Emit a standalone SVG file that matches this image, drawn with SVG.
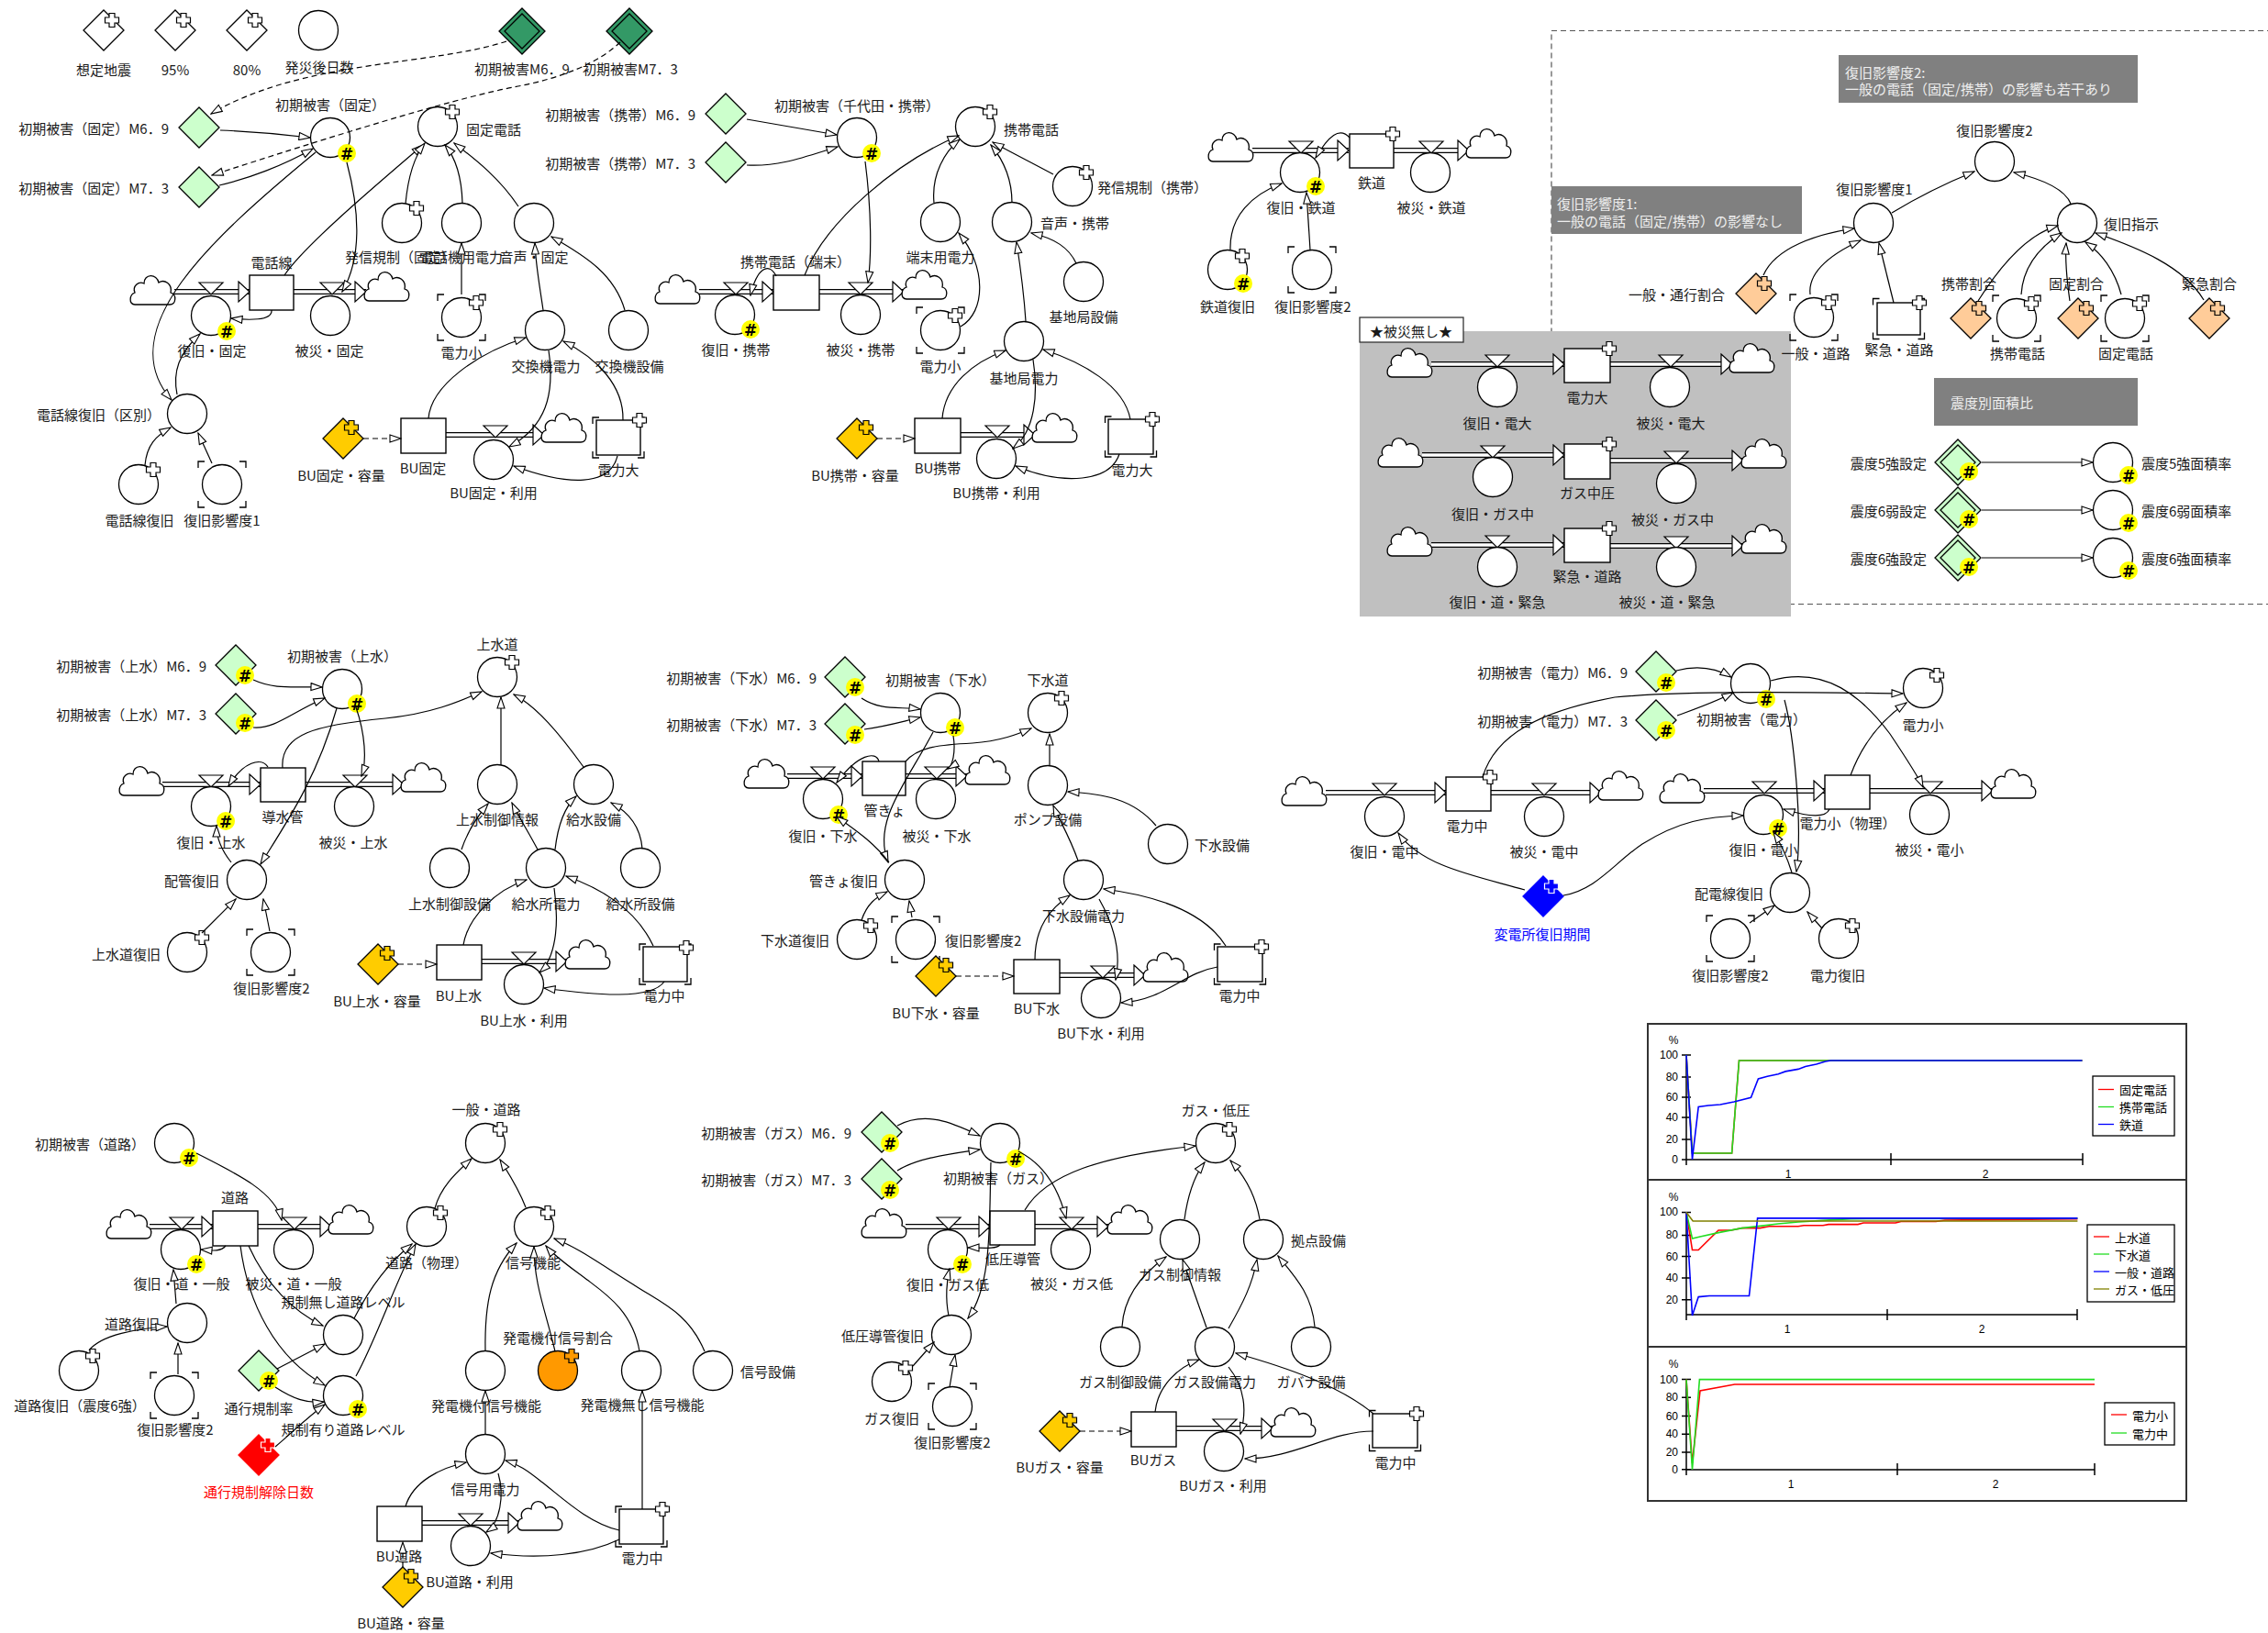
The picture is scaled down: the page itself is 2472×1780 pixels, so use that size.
<svg xmlns="http://www.w3.org/2000/svg" xmlns:xlink="http://www.w3.org/1999/xlink" width="2472" height="1780" viewBox="0 0 2472 1780">
<style>
text{font-family:"Noto Sans CJK JP","Liberation Sans",sans-serif;font-size:15px;fill:#1a1a1a;dominant-baseline:central;text-anchor:middle}
.s{text-anchor:start}.e{text-anchor:end}
.c{fill:#fff;stroke:#000;stroke-width:1.3}
.b{fill:#fff;stroke:#000;stroke-width:1.4}
.k{fill:none;stroke:#000;stroke-width:1.2;marker-end:url(#ah)}
.d{fill:none;stroke:#000;stroke-width:1.2;stroke-dasharray:6 4;marker-end:url(#ah)}
.p1{fill:none;stroke:#000;stroke-width:6}
.p2{fill:none;stroke:#fff;stroke-width:3.4}
.hb{fill:#ffff00}
.hx{font-family:"DejaVu Sans","Liberation Sans",sans-serif;font-weight:bold;font-size:17px;fill:#000}
.nt{fill:#eeeeee;font-size:15px}
.cf{font-family:"Liberation Sans",sans-serif;font-size:12px;fill:#000}
.lg{font-size:13px;fill:#000}
.ax{stroke:#000;stroke-width:1.5;fill:none}
.fr{fill:#fff;stroke:#333;stroke-width:2}
.ln{fill:none;stroke-width:1.6}
</style>
<defs>
<marker id="ah" markerWidth="14" markerHeight="10" refX="13" refY="5" orient="auto" markerUnits="userSpaceOnUse"><path d="M1,1 L13,5 L1,9 Z" fill="#fff" stroke="#000" stroke-width="1.1"/></marker>
<path id="cl" d="M-20,16 H18 C25,16 26,5 19,3 C21,-7 12,-12 6,-8 C4,-18 -10,-18 -10,-7 C-16,-10 -23,-4 -20,3 C-26,5 -27,16 -20,16 Z" fill="#fff" stroke="#000" stroke-width="1.3"/>
<path id="vl" d="M-13,-10 H13 L0,3 Z" fill="#fff" stroke="#000" stroke-width="1.2"/>
<path id="pa" d="M-12,-11 L0,0 L-12,11 Z" fill="#fff" stroke="#000" stroke-width="1.2"/>
<path id="pl" d="M-3,-7.5H3V-3H7.5V3H3V7.5H-3V3H-7.5V-3H-3Z" stroke-width="1.2"/>
<path id="pw" d="M-3,-7.5H3V-3H7.5V3H3V7.5H-3V3H-7.5V-3H-3Z" fill="#fff" stroke="#000" stroke-width="1.2"/>
<path id="dm" d="M0,-22L22,0 0,22-22,0Z" stroke-width="1.3"/>
<g id="dd" stroke-width="1.3"><path d="M0,-25L25,0 0,25-25,0Z"/><path d="M0,-19L19,0 0,19-19,0Z"/></g>
<path id="bk" d="M-26,-18V-25H-19M19,-25H26V-18M26,18V25H19M-19,25H-26V18" fill="none" stroke="#000" stroke-width="1.3"/>
<path id="bb" d="M-28,-15V-22H-21M21,-22H28V-15M28,15V22H21M-21,22H-28V15" fill="none" stroke="#000" stroke-width="1.3"/>
</defs>
<rect width="2472" height="1780" fill="#fff"/>

<g id="frames">
<rect x="1691" y="33.5" width="800" height="625" fill="none" stroke="#555" stroke-width="1.2" stroke-dasharray="6 4"/>
<rect x="1482" y="361" width="470" height="311" fill="#c0c0c0"/>
<rect x="1482" y="346" width="113" height="27" fill="#fff" stroke="#333" stroke-width="1.3"/>
<text x="1538" y="360">★被災無し★</text>
<rect x="1691" y="203" width="273" height="52" fill="#808080"/>
<text class="s nt" x="1697" y="221">復旧影響度1:</text>
<text class="s nt" x="1697" y="240">一般の電話（固定/携帯）の影響なし</text>
<rect x="2004" y="60" width="326" height="52" fill="#808080"/>
<text class="s nt" x="2011" y="78">復旧影響度2:</text>
<text class="s nt" x="2011" y="96">一般の電話（固定/携帯）の影響も若干あり</text>
<rect x="2108" y="412" width="222" height="52" fill="#808080"/>
<text class="s nt" x="2126" y="438">震度別面積比</text>
</g>

<g id="pipes">
<path class="p1" d="M190,318H272M320,318H399M486,474H593M762,318H843M893,318H985M1047,474H1128M1365,164H1470M1519,164H1601M1560,397H1705M1755,397H1888M1550,496H1705M1755,502H1900M1560,594H1705M1755,595H1900M177,855H284M333,855H440M525,1048H618M858,846H940M987,846H1054M1155,1063H1248M1445,864H1576M1625,864H1745M1857,862H1989M2038,862H2172M163,1337H232M281,1337H361M460,1660H566M987,1337H1079M1128,1337H1208M1282,1557H1387"/>
<path class="p2" d="M190,318H272M320,318H399M486,474H593M762,318H843M893,318H985M1047,474H1128M1365,164H1470M1519,164H1601M1560,397H1705M1755,397H1888M1550,496H1705M1755,502H1900M1560,594H1705M1755,595H1900M177,855H284M333,855H440M525,1048H618M858,846H940M987,846H1054M1155,1063H1248M1445,864H1576M1625,864H1745M1857,862H1989M2038,862H2172M163,1337H232M281,1337H361M460,1660H566M987,1337H1079M1128,1337H1208M1282,1557H1387"/>
<use href="#pa" x="272" y="318"/><use href="#pa" x="399" y="318"/><use href="#pa" x="593" y="474"/>
<use href="#pa" x="843" y="318"/><use href="#pa" x="985" y="318"/><use href="#pa" x="1128" y="474"/>
<use href="#pa" x="1470" y="164"/><use href="#pa" x="1601" y="164"/>
<use href="#pa" x="1705" y="397"/><use href="#pa" x="1888" y="397"/><use href="#pa" x="1705" y="496"/><use href="#pa" x="1900" y="502"/><use href="#pa" x="1705" y="594"/><use href="#pa" x="1900" y="595"/>
<use href="#pa" x="284" y="855"/><use href="#pa" x="440" y="855"/><use href="#pa" x="618" y="1048"/>
<use href="#pa" x="940" y="846"/><use href="#pa" x="1054" y="846"/><use href="#pa" x="1248" y="1063"/>
<use href="#pa" x="1576" y="864"/><use href="#pa" x="1745" y="864"/><use href="#pa" x="1989" y="862"/><use href="#pa" x="2172" y="862"/>
<use href="#pa" x="232" y="1337"/><use href="#pa" x="361" y="1337"/><use href="#pa" x="566" y="1660"/>
<use href="#pa" x="1079" y="1337"/><use href="#pa" x="1208" y="1337"/><use href="#pa" x="1387" y="1557"/>
</g>

<g id="clouds">
<use href="#cl" x="167" y="316"/><use href="#cl" x="422" y="312"/><use href="#cl" x="615" y="466"/>
<use href="#cl" x="739" y="315"/><use href="#cl" x="1008" y="310"/><use href="#cl" x="1150" y="466"/>
<use href="#cl" x="1342" y="160"/><use href="#cl" x="1623" y="156"/>
<use href="#cl" x="1537" y="395"/><use href="#cl" x="1910" y="390"/><use href="#cl" x="1527" y="493"/><use href="#cl" x="1923" y="494"/><use href="#cl" x="1537" y="590"/><use href="#cl" x="1923" y="587"/>
<use href="#cl" x="155" y="851"/><use href="#cl" x="462" y="847"/><use href="#cl" x="641" y="1040"/>
<use href="#cl" x="836" y="843"/><use href="#cl" x="1077" y="839"/><use href="#cl" x="1271" y="1054"/>
<use href="#cl" x="1422" y="862"/><use href="#cl" x="1767" y="856"/><use href="#cl" x="1834" y="859"/><use href="#cl" x="2195" y="854"/>
<use href="#cl" x="141" y="1334"/><use href="#cl" x="383" y="1329"/><use href="#cl" x="589" y="1652"/>
<use href="#cl" x="964" y="1333"/><use href="#cl" x="1232" y="1329"/><use href="#cl" x="1410" y="1550"/>
</g>

<!-- ===== Section A: legend + fixed phone ===== -->
<g id="n-soutei"><use href="#dm" x="113" y="33" fill="#fff" stroke="#000"/><use href="#pw" x="122" y="22"/><text x="113" y="75">想定地震</text></g>
<g id="n-95"><use href="#dm" x="191" y="33" fill="#fff" stroke="#000"/><use href="#pw" x="200" y="22"/><text x="191" y="75">95%</text></g>
<g id="n-80"><use href="#dm" x="269" y="33" fill="#fff" stroke="#000"/><use href="#pw" x="278" y="22"/><text x="269" y="75">80%</text></g>
<g id="n-hassai"><circle class="c" cx="347" cy="33" r="21.5"/><text x="348" y="72">発災後日数</text></g>
<g id="n-m69"><use href="#dd" x="569" y="34" fill="#339966" stroke="#000"/><text x="569" y="74">初期被害M6．9</text></g>
<g id="n-m73"><use href="#dd" x="686" y="34" fill="#339966" stroke="#000"/><text x="687" y="74">初期被害M7．3</text></g>
<g id="n-kotei-m69"><use href="#dm" x="217" y="139" fill="#ccffcc" stroke="#000"/><text class="e" x="184" y="139">初期被害（固定）M6．9</text></g>
<g id="n-kotei-m73"><use href="#dm" x="217" y="204" fill="#ccffcc" stroke="#000"/><text class="e" x="184" y="204">初期被害（固定）M7．3</text></g>
<g id="n-kotei-init"><circle class="c" cx="360" cy="150" r="21.5"/><circle class="hb" cx="378" cy="167" r="10"/><text class="hx" x="378" y="168">#</text><text x="360" y="113">初期被害（固定）</text></g>
<g id="n-kotei-tel"><circle class="c" cx="477" cy="138" r="21.5"/><use href="#pw" x="493" y="122"/><text class="s" x="508" y="140">固定電話</text></g>
<g id="n-kotei-kisei"><circle class="c" cx="438" cy="243" r="21.5"/><use href="#pw" x="454" y="227"/><text x="436" y="279">発信規制（固定）</text></g>
<g id="n-kotei-denwaki"><circle class="c" cx="503" cy="243" r="21.5"/><text x="503" y="279">電話機用電力</text></g>
<g id="n-kotei-onsei"><circle class="c" cx="582" cy="243" r="21.5"/><text x="582" y="279">音声・固定</text></g>
<g id="n-kotei-denryokusho"><circle class="c" cx="503" cy="346" r="21.5"/><use href="#bk" x="503" y="346"/><use href="#pw" x="519" y="330"/><text x="503" y="383">電力小</text></g>
<g id="n-kotei-kokanden"><circle class="c" cx="594" cy="360" r="21.5"/><text x="595" y="398">交換機電力</text></g>
<g id="n-kotei-kokansetsubi"><circle class="c" cx="685" cy="360" r="21.5"/><text x="686" y="398">交換機設備</text></g>
<g id="n-denwasen"><rect class="b" x="272" y="300" width="48" height="38"/><text x="296" y="285">電話線</text></g>
<g id="n-fukkyu-kotei"><use href="#vl" x="230" y="318"/><circle class="c" cx="230" cy="344" r="21.5"/><circle class="hb" cx="247" cy="361" r="10"/><text class="hx" x="247" y="362">#</text><text x="231" y="381">復旧・固定</text></g>
<g id="n-hisai-kotei"><use href="#vl" x="362" y="318"/><circle class="c" cx="360" cy="344" r="21.5"/><text x="359" y="381">被災・固定</text></g>
<g id="n-denwasen-kubetsu"><circle class="c" cx="204" cy="451" r="21.5"/><text class="e" x="175" y="451">電話線復旧（区別）</text></g>
<g id="n-denwasen-fukkyu"><circle class="c" cx="151" cy="528" r="21.5"/><use href="#pw" x="167" y="512"/><text x="152" y="566">電話線復旧</text></g>
<g id="n-eikyo1-a"><circle class="c" cx="242" cy="528" r="21.5"/><use href="#bk" x="242" y="528"/><text x="242" y="566">復旧影響度1</text></g>
<g id="n-bu-kotei-yoryo"><use href="#dm" x="374" y="478" fill="#ffcc00" stroke="#000"/><use href="#pl" x="383" y="466" fill="#ffcc00" stroke="#000"/><text x="372" y="517">BU固定・容量</text></g>
<g id="n-bu-kotei"><rect class="b" x="437" y="456" width="49" height="38"/><text x="461" y="509">BU固定</text></g>
<g id="n-bu-kotei-riyo"><use href="#vl" x="540" y="474"/><circle class="c" cx="538" cy="501" r="21.5"/><text x="538" y="536">BU固定・利用</text></g>
<g id="n-kotei-denryokudai"><rect class="b" x="650" y="458" width="48" height="38"/><use href="#bb" x="674" y="477"/><use href="#pw" x="697" y="458"/><text x="674" y="511">電力大</text></g>

<!-- ===== Section B: mobile ===== -->
<g id="n-keitai-m69"><use href="#dm" x="791" y="124" fill="#ccffcc" stroke="#000"/><text class="e" x="758" y="124">初期被害（携帯）M6．9</text></g>
<g id="n-keitai-m73"><use href="#dm" x="791" y="177" fill="#ccffcc" stroke="#000"/><text class="e" x="758" y="177">初期被害（携帯）M7．3</text></g>
<g id="n-keitai-init"><circle class="c" cx="934" cy="150" r="21.5"/><circle class="hb" cx="950" cy="167" r="10"/><text class="hx" x="950" y="168">#</text><text x="934" y="114">初期被害（千代田・携帯）</text></g>
<g id="n-keitai-tel"><circle class="c" cx="1063" cy="138" r="21.5"/><use href="#pw" x="1079" y="122"/><text class="s" x="1094" y="140">携帯電話</text></g>
<g id="n-keitai-kisei"><circle class="c" cx="1169" cy="203" r="21.5"/><use href="#pw" x="1184" y="188"/><text class="s" x="1196" y="203">発信規制（携帯）</text></g>
<g id="n-tanmatsu-den"><circle class="c" cx="1025" cy="242" r="21.5"/><text x="1025" y="279">端末用電力</text></g>
<g id="n-onsei-keitai"><circle class="c" cx="1103" cy="242" r="21.5"/><text class="s" x="1134" y="242">音声・携帯</text></g>
<g id="n-kichi-setsubi"><circle class="c" cx="1181" cy="307" r="21.5"/><text x="1181" y="344">基地局設備</text></g>
<g id="n-keitai-denryokusho"><circle class="c" cx="1025" cy="360" r="21.5"/><use href="#bk" x="1025" y="360"/><use href="#pw" x="1041" y="344"/><text x="1025" y="398">電力小</text></g>
<g id="n-kichi-den"><circle class="c" cx="1116" cy="372" r="21.5"/><text x="1116" y="411">基地局電力</text></g>
<g id="n-keitai-tanmatsu"><rect class="b" x="843" y="300" width="50" height="38"/><text x="867" y="284">携帯電話（端末）</text></g>
<g id="n-fukkyu-keitai"><use href="#vl" x="802" y="318"/><circle class="c" cx="801" cy="343" r="21.5"/><circle class="hb" cx="818" cy="359" r="10"/><text class="hx" x="818" y="360">#</text><text x="802" y="380">復旧・携帯</text></g>
<g id="n-hisai-keitai"><use href="#vl" x="938" y="318"/><circle class="c" cx="938" cy="343" r="21.5"/><text x="938" y="380">被災・携帯</text></g>
<g id="n-bu-keitai-yoryo"><use href="#dm" x="934" y="478" fill="#ffcc00" stroke="#000"/><use href="#pl" x="944" y="466" fill="#ffcc00" stroke="#000"/><text x="932" y="517">BU携帯・容量</text></g>
<g id="n-bu-keitai"><rect class="b" x="997" y="456" width="50" height="38"/><text x="1022" y="509">BU携帯</text></g>
<g id="n-bu-keitai-riyo"><use href="#vl" x="1087" y="474"/><circle class="c" cx="1086" cy="500" r="21.5"/><text x="1086" y="536">BU携帯・利用</text></g>
<g id="n-keitai-denryokudai"><rect class="b" x="1208" y="457" width="49" height="38"/><use href="#bb" x="1232.5" y="476"/><use href="#pw" x="1256" y="457"/><text x="1234" y="511">電力大</text></g>

<!-- ===== Section C: railway ===== -->
<g id="n-tetsudo"><rect class="b" x="1471" y="146" width="48" height="37"/><use href="#pw" x="1518" y="146"/><text x="1495" y="198">鉄道</text></g>
<g id="n-fukkyu-tetsudo"><use href="#vl" x="1418" y="164"/><circle class="c" cx="1417" cy="188" r="21.5"/><circle class="hb" cx="1434" cy="203" r="10"/><text class="hx" x="1434" y="204">#</text><text x="1418" y="225">復旧・鉄道</text></g>
<g id="n-hisai-tetsudo"><use href="#vl" x="1560" y="164"/><circle class="c" cx="1559" cy="188" r="21.5"/><text x="1560" y="225">被災・鉄道</text></g>
<g id="n-tetsudo-fukkyu"><circle class="c" cx="1338" cy="294" r="21.5"/><use href="#pw" x="1354" y="279"/><circle class="hb" cx="1355" cy="309" r="10"/><text class="hx" x="1355" y="310">#</text><text x="1338" y="333">鉄道復旧</text></g>
<g id="n-eikyo2-tetsudo"><circle class="c" cx="1430" cy="294" r="21.5"/><use href="#bk" x="1430" y="294"/><text x="1431" y="333">復旧影響度2</text></g>

<!-- ===== Section D: no-damage ===== -->
<g id="n-nd-denryokudai"><rect class="b" x="1705" y="380" width="50" height="37"/><use href="#pw" x="1754" y="380"/><text x="1730" y="432">電力大</text></g>
<g id="n-nd-fukkyu-dendai"><use href="#vl" x="1632" y="397"/><circle class="c" cx="1632" cy="422" r="21.5"/><text x="1632" y="460">復旧・電大</text></g>
<g id="n-nd-hisai-dendai"><use href="#vl" x="1821" y="397"/><circle class="c" cx="1820" cy="422" r="21.5"/><text x="1821" y="460">被災・電大</text></g>
<g id="n-nd-gaschuatsu"><rect class="b" x="1705" y="484" width="50" height="38"/><use href="#pw" x="1754" y="484"/><text x="1730" y="536">ガス中圧</text></g>
<g id="n-nd-fukkyu-gaschu"><use href="#vl" x="1627" y="496"/><circle class="c" cx="1627" cy="520" r="21.5"/><text x="1627" y="559">復旧・ガス中</text></g>
<g id="n-nd-hisai-gaschu"><use href="#vl" x="1827" y="502"/><circle class="c" cx="1827" cy="527" r="21.5"/><text x="1823" y="565">被災・ガス中</text></g>
<g id="n-nd-kinkyu"><rect class="b" x="1705" y="576" width="50" height="37"/><use href="#pw" x="1754" y="576"/><text x="1730" y="627">緊急・道路</text></g>
<g id="n-nd-fukkyu-kinkyu"><use href="#vl" x="1632" y="594"/><circle class="c" cx="1632" cy="618" r="21.5"/><text x="1632" y="655">復旧・道・緊急</text></g>
<g id="n-nd-hisai-kinkyu"><use href="#vl" x="1827" y="595"/><circle class="c" cx="1827" cy="618" r="21.5"/><text x="1817" y="655">被災・道・緊急</text></g>

<!-- ===== Section E: recovery influence ===== -->
<g id="n-eikyo2"><circle class="c" cx="2174" cy="176" r="21.5"/><text x="2174" y="141">復旧影響度2</text></g>
<g id="n-eikyo1"><circle class="c" cx="2042" cy="243" r="21.5"/><text x="2043" y="205">復旧影響度1</text></g>
<g id="n-shiji"><circle class="c" cx="2264" cy="243" r="21.5"/><text class="s" x="2293" y="243">復旧指示</text></g>
<g id="n-ippan-tsuko"><use href="#dm" x="1914" y="320" fill="#ffcc99" stroke="#000"/><use href="#pl" x="1923" y="309" fill="#ffcc99" stroke="#000"/><text class="e" x="1880" y="320">一般・通行割合</text></g>
<g id="n-e-ippan-doro"><circle class="c" cx="1977" cy="346" r="21.5"/><use href="#bk" x="1977" y="346"/><use href="#pw" x="1993" y="330"/><text x="1979" y="384">一般・道路</text></g>
<g id="n-e-kinkyu-doro"><rect class="b" x="2046" y="330" width="47" height="35"/><use href="#bb" x="2069.5" y="347.5"/><use href="#pw" x="2092" y="330"/><text x="2070" y="380">緊急・道路</text></g>
<g id="n-keitai-wariai"><use href="#dm" x="2148" y="347" fill="#ffcc99" stroke="#000"/><use href="#pl" x="2157" y="336" fill="#ffcc99" stroke="#000"/><text x="2146" y="308">携帯割合</text></g>
<g id="n-e-keitai-tel"><circle class="c" cx="2198" cy="347" r="21.5"/><use href="#bk" x="2198" y="347"/><use href="#pw" x="2214" y="331"/><text x="2199" y="384">携帯電話</text></g>
<g id="n-kotei-wariai"><use href="#dm" x="2265" y="347" fill="#ffcc99" stroke="#000"/><use href="#pl" x="2274" y="336" fill="#ffcc99" stroke="#000"/><text x="2263" y="308">固定割合</text></g>
<g id="n-e-kotei-tel"><circle class="c" cx="2316" cy="347" r="21.5"/><use href="#bk" x="2316" y="347"/><use href="#pw" x="2332" y="331"/><text x="2317" y="384">固定電話</text></g>
<g id="n-kinkyu-wariai"><use href="#dm" x="2408" y="347" fill="#ffcc99" stroke="#000"/><use href="#pl" x="2417" y="336" fill="#ffcc99" stroke="#000"/><text x="2408" y="308">緊急割合</text></g>
<g id="n-shindo5k"><use href="#dd" x="2134" y="504" fill="#ccffcc" stroke="#000"/><circle class="hb" cx="2146" cy="514" r="10"/><text class="hx" x="2146" y="515">#</text><text class="e" x="2100" y="504">震度5強設定</text></g>
<g id="n-shindo5k-r"><circle class="c" cx="2303" cy="504" r="21.5"/><circle class="hb" cx="2320" cy="518" r="10"/><text class="hx" x="2320" y="519">#</text><text class="s" x="2334" y="504">震度5強面積率</text></g>
<g id="n-shindo6j"><use href="#dd" x="2134" y="556" fill="#ccffcc" stroke="#000"/><circle class="hb" cx="2146" cy="566" r="10"/><text class="hx" x="2146" y="567">#</text><text class="e" x="2100" y="556">震度6弱設定</text></g>
<g id="n-shindo6j-r"><circle class="c" cx="2303" cy="556" r="21.5"/><circle class="hb" cx="2320" cy="570" r="10"/><text class="hx" x="2320" y="571">#</text><text class="s" x="2334" y="556">震度6弱面積率</text></g>
<g id="n-shindo6k"><use href="#dd" x="2134" y="608" fill="#ccffcc" stroke="#000"/><circle class="hb" cx="2146" cy="618" r="10"/><text class="hx" x="2146" y="619">#</text><text class="e" x="2100" y="608">震度6強設定</text></g>
<g id="n-shindo6k-r"><circle class="c" cx="2303" cy="608" r="21.5"/><circle class="hb" cx="2320" cy="622" r="10"/><text class="hx" x="2320" y="623">#</text><text class="s" x="2334" y="608">震度6強面積率</text></g>

<!-- ===== Section F: water supply ===== -->
<g id="n-josui-m69"><use href="#dm" x="257" y="725" fill="#ccffcc" stroke="#000"/><circle class="hb" cx="267" cy="736" r="10"/><text class="hx" x="267" y="737">#</text><text class="e" x="225" y="725">初期被害（上水）M6．9</text></g>
<g id="n-josui-m73"><use href="#dm" x="257" y="778" fill="#ccffcc" stroke="#000"/><circle class="hb" cx="267" cy="788" r="10"/><text class="hx" x="267" y="789">#</text><text class="e" x="225" y="778">初期被害（上水）M7．3</text></g>
<g id="n-josui-init"><circle class="c" cx="373" cy="751" r="21.5"/><circle class="hb" cx="389" cy="767" r="10"/><text class="hx" x="389" y="768">#</text><text x="373" y="714">初期被害（上水）</text></g>
<g id="n-josuido"><circle class="c" cx="542" cy="738" r="21.5"/><use href="#pw" x="558" y="722"/><text x="542" y="701">上水道</text></g>
<g id="n-dosuikan"><rect class="b" x="284" y="837" width="49" height="37"/><text x="308" y="889">導水管</text></g>
<g id="n-fukkyu-josui"><use href="#vl" x="230" y="855"/><circle class="c" cx="230" cy="879" r="21.5"/><circle class="hb" cx="246" cy="895" r="10"/><text class="hx" x="246" y="896">#</text><text x="230" y="917">復旧・上水</text></g>
<g id="n-hisai-josui"><use href="#vl" x="387" y="855"/><circle class="c" cx="386" cy="879" r="21.5"/><text x="385" y="917">被災・上水</text></g>
<g id="n-haikan"><circle class="c" cx="269" cy="959" r="21.5"/><text class="e" x="239" y="959">配管復旧</text></g>
<g id="n-josuido-fukkyu"><circle class="c" cx="204" cy="1038" r="21.5"/><use href="#pw" x="220" y="1022"/><text class="e" x="175" y="1039">上水道復旧</text></g>
<g id="n-eikyo2-josui"><circle class="c" cx="295" cy="1038" r="21.5"/><use href="#bk" x="295" y="1038"/><text x="296" y="1076">復旧影響度2</text></g>
<g id="n-josui-seigyo"><circle class="c" cx="542" cy="855" r="21.5"/><text x="542" y="892">上水制御情報</text></g>
<g id="n-kyusui-setsubi"><circle class="c" cx="647" cy="855" r="21.5"/><text x="647" y="892">給水設備</text></g>
<g id="n-josui-seigyo-setsubi"><circle class="c" cx="490" cy="946" r="21.5"/><text x="490" y="984">上水制御設備</text></g>
<g id="n-kyusuijo-den"><circle class="c" cx="595" cy="946" r="21.5"/><text x="595" y="984">給水所電力</text></g>
<g id="n-kyusuijo-setsubi"><circle class="c" cx="698" cy="946" r="21.5"/><text x="698" y="984">給水所設備</text></g>
<g id="n-bu-josui-yoryo"><use href="#dm" x="412" y="1051" fill="#ffcc00" stroke="#000"/><use href="#pl" x="422" y="1039" fill="#ffcc00" stroke="#000"/><text x="411" y="1090">BU上水・容量</text></g>
<g id="n-bu-josui"><rect class="b" x="476" y="1030" width="49" height="38"/><text x="500" y="1084">BU上水</text></g>
<g id="n-bu-josui-riyo"><use href="#vl" x="571" y="1048"/><circle class="c" cx="571" cy="1073" r="21.5"/><text x="571" y="1111">BU上水・利用</text></g>
<g id="n-josui-denryokuchu"><rect class="b" x="701" y="1032" width="48" height="38"/><use href="#bb" x="725" y="1051"/><use href="#pw" x="748" y="1033"/><text x="724" y="1084">電力中</text></g>

<!-- ===== Section G: sewerage ===== -->
<g id="n-gesui-m69"><use href="#dm" x="921" y="738" fill="#ccffcc" stroke="#000"/><circle class="hb" cx="932" cy="749" r="10"/><text class="hx" x="932" y="750">#</text><text class="e" x="890" y="738">初期被害（下水）M6．9</text></g>
<g id="n-gesui-m73"><use href="#dm" x="921" y="789" fill="#ccffcc" stroke="#000"/><circle class="hb" cx="932" cy="801" r="10"/><text class="hx" x="932" y="802">#</text><text class="e" x="890" y="789">初期被害（下水）M7．3</text></g>
<g id="n-gesui-init"><circle class="c" cx="1025" cy="777" r="21.5"/><circle class="hb" cx="1041" cy="793" r="10"/><text class="hx" x="1041" y="794">#</text><text x="1025" y="740">初期被害（下水）</text></g>
<g id="n-gesuido"><circle class="c" cx="1142" cy="777" r="21.5"/><use href="#pw" x="1157" y="761"/><text x="1142" y="740">下水道</text></g>
<g id="n-kankyo"><rect class="b" x="940" y="830" width="47" height="37"/><text x="964" y="882">管きょ</text></g>
<g id="n-fukkyu-gesui"><use href="#vl" x="897" y="846"/><circle class="c" cx="897" cy="871" r="21.5"/><circle class="hb" cx="914" cy="888" r="10"/><text class="hx" x="914" y="889">#</text><text x="897" y="910">復旧・下水</text></g>
<g id="n-hisai-gesui"><use href="#vl" x="1021" y="846"/><circle class="c" cx="1020" cy="871" r="21.5"/><text x="1021" y="910">被災・下水</text></g>
<g id="n-kankyo-fukkyu"><circle class="c" cx="986" cy="959" r="21.5"/><text class="e" x="957" y="959">管きょ復旧</text></g>
<g id="n-gesuido-fukkyu"><circle class="c" cx="934" cy="1024" r="21.5"/><use href="#pw" x="949" y="1009"/><text class="e" x="904" y="1024">下水道復旧</text></g>
<g id="n-eikyo2-gesui"><circle class="c" cx="998" cy="1024" r="21.5"/><use href="#bk" x="998" y="1024"/><text class="s" x="1030" y="1024">復旧影響度2</text></g>
<g id="n-pump"><circle class="c" cx="1142" cy="856" r="21.5"/><text x="1142" y="892">ポンプ設備</text></g>
<g id="n-gesui-setsubi"><circle class="c" cx="1273" cy="920" r="21.5"/><text class="s" x="1302" y="920">下水設備</text></g>
<g id="n-gesui-setsubi-den"><circle class="c" cx="1181" cy="959" r="21.5"/><text x="1181" y="997">下水設備電力</text></g>
<g id="n-bu-gesui-yoryo"><use href="#dm" x="1020" y="1064" fill="#ffcc00" stroke="#000"/><use href="#pl" x="1031" y="1052" fill="#ffcc00" stroke="#000"/><text x="1020" y="1103">BU下水・容量</text></g>
<g id="n-bu-gesui"><rect class="b" x="1105" y="1046" width="50" height="37"/><text x="1130" y="1098">BU下水</text></g>
<g id="n-bu-gesui-riyo"><use href="#vl" x="1202" y="1063"/><circle class="c" cx="1200" cy="1088" r="21.5"/><text x="1200" y="1125">BU下水・利用</text></g>
<g id="n-gesui-denryokuchu"><rect class="b" x="1327" y="1032" width="49" height="38"/><use href="#bb" x="1351.5" y="1051"/><use href="#pw" x="1375" y="1032"/><text x="1351" y="1084">電力中</text></g>

<!-- ===== Section H: power ===== -->
<g id="n-denryoku-m69"><use href="#dm" x="1805" y="732" fill="#ccffcc" stroke="#000"/><circle class="hb" cx="1816" cy="744" r="10"/><text class="hx" x="1816" y="745">#</text><text class="e" x="1774" y="732">初期被害（電力）M6．9</text></g>
<g id="n-denryoku-m73"><use href="#dm" x="1805" y="785" fill="#ccffcc" stroke="#000"/><circle class="hb" cx="1816" cy="796" r="10"/><text class="hx" x="1816" y="797">#</text><text class="e" x="1774" y="785">初期被害（電力）M7．3</text></g>
<g id="n-denryoku-init"><circle class="c" cx="1908" cy="745" r="21.5"/><circle class="hb" cx="1925" cy="762" r="10"/><text class="hx" x="1925" y="763">#</text><text x="1909" y="783">初期被害（電力）</text></g>
<g id="n-denryokusho"><circle class="c" cx="2096" cy="750" r="21.5"/><use href="#pw" x="2111" y="736"/><text x="2096" y="789">電力小</text></g>
<g id="n-denryokuchu"><rect class="b" x="1576" y="847" width="49" height="37"/><use href="#pw" x="1624" y="847"/><text x="1599" y="899">電力中</text></g>
<g id="n-fukkyu-denchu"><use href="#vl" x="1509" y="864"/><circle class="c" cx="1509" cy="890" r="21.5"/><text x="1509" y="927">復旧・電中</text></g>
<g id="n-hisai-denchu"><use href="#vl" x="1683" y="864"/><circle class="c" cx="1683" cy="890" r="21.5"/><text x="1683" y="927">被災・電中</text></g>
<g id="n-denryokusho-butsuri"><rect class="b" x="1989" y="845" width="49" height="37"/><text x="2014" y="896">電力小（物理）</text></g>
<g id="n-fukkyu-densho"><use href="#vl" x="1923" y="862"/><circle class="c" cx="1922" cy="888" r="21.5"/><circle class="hb" cx="1938" cy="903" r="10"/><text class="hx" x="1938" y="904">#</text><text x="1922" y="925">復旧・電小</text></g>
<g id="n-hisai-densho"><use href="#vl" x="2104" y="862"/><circle class="c" cx="2103" cy="888" r="21.5"/><text x="2103" y="925">被災・電小</text></g>
<g id="n-hendensho"><use href="#dm" x="1682" y="977" fill="#0000ff" stroke="#0000ff"/><use href="#pl" x="1691" y="966" fill="#0000ff" stroke="#fff"/><text x="1681" y="1017" style="fill:#0000ff">変電所復旧期間</text></g>
<g id="n-haidensen"><circle class="c" cx="1951" cy="973" r="21.5"/><text class="e" x="1922" y="973">配電線復旧</text></g>
<g id="n-eikyo2-den"><circle class="c" cx="1886" cy="1023" r="21.5"/><use href="#bk" x="1886" y="1023"/><text x="1886" y="1062">復旧影響度2</text></g>
<g id="n-denryoku-fukkyu"><circle class="c" cx="2004" cy="1023" r="21.5"/><use href="#pw" x="2019" y="1009"/><text x="2003" y="1062">電力復旧</text></g>

<!-- ===== Section I: road ===== -->
<g id="n-doro-init"><circle class="c" cx="190" cy="1246" r="21.5"/><circle class="hb" cx="206" cy="1262" r="10"/><text class="hx" x="206" y="1263">#</text><text class="e" x="158" y="1246">初期被害（道路）</text></g>
<g id="n-doro"><rect class="b" x="232" y="1320" width="49" height="38"/><text x="256" y="1304">道路</text></g>
<g id="n-fukkyu-doro"><use href="#vl" x="198" y="1337"/><circle class="c" cx="197" cy="1362" r="21.5"/><circle class="hb" cx="214" cy="1378" r="10"/><text class="hx" x="214" y="1379">#</text><text x="198" y="1398">復旧・道・一般</text></g>
<g id="n-hisai-doro"><use href="#vl" x="321" y="1337"/><circle class="c" cx="320" cy="1362" r="21.5"/><text x="320" y="1398">被災・道・一般</text></g>
<g id="n-doro-fukkyu"><circle class="c" cx="204" cy="1442" r="21.5"/><text class="e" x="174" y="1442">道路復旧</text></g>
<g id="n-doro-fukkyu6"><circle class="c" cx="86" cy="1494" r="21.5"/><use href="#pw" x="101" y="1478"/><text x="87" y="1531">道路復旧（震度6強）</text></g>
<g id="n-eikyo2-doro"><circle class="c" cx="190" cy="1521" r="21.5"/><use href="#bk" x="190" y="1521"/><text x="191" y="1557">復旧影響度2</text></g>
<g id="n-kisei-nashi"><circle class="c" cx="374" cy="1455" r="21.5"/><text x="374" y="1418">規制無し道路レベル</text></g>
<g id="n-kisei-ari"><circle class="c" cx="374" cy="1521" r="21.5"/><circle class="hb" cx="390" cy="1536" r="10"/><text class="hx" x="390" y="1537">#</text><text x="374" y="1557">規制有り道路レベル</text></g>
<g id="n-tsuko-kiseiritsu"><use href="#dm" x="282" y="1494" fill="#ccffcc" stroke="#000"/><circle class="hb" cx="293" cy="1505" r="10"/><text class="hx" x="293" y="1506">#</text><text x="282" y="1534">通行規制率</text></g>
<g id="n-tsuko-kaijo"><use href="#dm" x="282" y="1586" fill="#ff0000" stroke="#ff0000"/><use href="#pl" x="292" y="1575" fill="#ff0000" stroke="#fff"/><text x="282" y="1625" style="fill:#ff0000">通行規制解除日数</text></g>
<g id="n-ippan-doro"><circle class="c" cx="529" cy="1246" r="21.5"/><use href="#pw" x="545" y="1231"/><text x="530" y="1208">一般・道路</text></g>
<g id="n-doro-butsuri"><circle class="c" cx="465" cy="1337" r="21.5"/><use href="#pw" x="480" y="1322"/><text x="465" y="1375">道路（物理）</text></g>
<g id="n-shingo-kino"><circle class="c" cx="582" cy="1337" r="21.5"/><use href="#pw" x="597" y="1322"/><text x="581" y="1375">信号機能</text></g>
<g id="n-hatsudenki-tsuki"><circle class="c" cx="529" cy="1494" r="21.5"/><text x="530" y="1531">発電機付信号機能</text></g>
<g id="n-hatsudenki-wariai"><circle cx="608" cy="1494" r="21.5" fill="#ff9900" stroke="#000" stroke-width="1.3"/><use href="#pl" x="623" y="1478" fill="#ff9900" stroke="#000"/><text x="608" y="1457">発電機付信号割合</text></g>
<g id="n-hatsudenki-nashi"><circle class="c" cx="699" cy="1494" r="21.5"/><text x="700" y="1530">発電機無し信号機能</text></g>
<g id="n-shingo-setsubi"><circle class="c" cx="777" cy="1494" r="21.5"/><text class="s" x="807" y="1494">信号設備</text></g>
<g id="n-shingo-den"><circle class="c" cx="529" cy="1585" r="21.5"/><text x="529" y="1622">信号用電力</text></g>
<g id="n-bu-doro"><rect class="b" x="411" y="1642" width="49" height="38"/><text x="435" y="1695">BU道路</text></g>
<g id="n-bu-doro-riyo"><use href="#vl" x="513" y="1660"/><circle class="c" cx="513" cy="1685" r="21.5"/><text x="512" y="1723">BU道路・利用</text></g>
<g id="n-bu-doro-yoryo"><use href="#dm" x="439" y="1730" fill="#ffcc00" stroke="#000"/><use href="#pl" x="448" y="1718" fill="#ffcc00" stroke="#000"/><text x="437" y="1768">BU道路・容量</text></g>
<g id="n-doro-denryokuchu"><rect class="b" x="675" y="1645" width="48" height="38"/><use href="#bb" x="699" y="1664"/><use href="#pw" x="722" y="1645"/><text x="700" y="1697">電力中</text></g>

<!-- ===== Section J: gas ===== -->
<g id="n-gas-m69"><use href="#dm" x="961" y="1234" fill="#ccffcc" stroke="#000"/><circle class="hb" cx="970" cy="1246" r="10"/><text class="hx" x="970" y="1247">#</text><text class="e" x="928" y="1234">初期被害（ガス）M6．9</text></g>
<g id="n-gas-m73"><use href="#dm" x="961" y="1285" fill="#ccffcc" stroke="#000"/><circle class="hb" cx="970" cy="1297" r="10"/><text class="hx" x="970" y="1298">#</text><text class="e" x="928" y="1285">初期被害（ガス）M7．3</text></g>
<g id="n-gas-init"><circle class="c" cx="1090" cy="1246" r="21.5"/><circle class="hb" cx="1107" cy="1263" r="10"/><text class="hx" x="1107" y="1264">#</text><text x="1088" y="1283">初期被害（ガス）</text></g>
<g id="n-teiatsu"><rect class="b" x="1079" y="1320" width="49" height="37"/><text x="1104" y="1371">低圧導管</text></g>
<g id="n-fukkyu-gas"><use href="#vl" x="1034" y="1337"/><circle class="c" cx="1033" cy="1362" r="21.5"/><circle class="hb" cx="1049" cy="1378" r="10"/><text class="hx" x="1049" y="1379">#</text><text x="1033" y="1399">復旧・ガス低</text></g>
<g id="n-hisai-gas"><use href="#vl" x="1168" y="1337"/><circle class="c" cx="1167" cy="1362" r="21.5"/><text x="1168" y="1398">被災・ガス低</text></g>
<g id="n-gas-teiatsu"><circle class="c" cx="1325" cy="1246" r="21.5"/><use href="#pw" x="1340" y="1231"/><text x="1325" y="1209">ガス・低圧</text></g>
<g id="n-gas-seigyo"><circle class="c" cx="1286" cy="1351" r="21.5"/><text x="1286" y="1388">ガス制御情報</text></g>
<g id="n-kyoten"><circle class="c" cx="1377" cy="1351" r="21.5"/><text class="s" x="1407" y="1351">拠点設備</text></g>
<g id="n-gas-seigyo-setsubi"><circle class="c" cx="1221" cy="1468" r="21.5"/><text x="1221" y="1505">ガス制御設備</text></g>
<g id="n-gas-setsubi-den"><circle class="c" cx="1324" cy="1468" r="21.5"/><text x="1324" y="1505">ガス設備電力</text></g>
<g id="n-governor"><circle class="c" cx="1429" cy="1468" r="21.5"/><text x="1429" y="1505">ガバナ設備</text></g>
<g id="n-bu-gas-yoryo"><use href="#dm" x="1155" y="1560" fill="#ffcc00" stroke="#000"/><use href="#pl" x="1166" y="1548" fill="#ffcc00" stroke="#000"/><text x="1155" y="1598">BUガス・容量</text></g>
<g id="n-bu-gas"><rect class="b" x="1233" y="1539" width="49" height="38"/><text x="1257" y="1590">BUガス</text></g>
<g id="n-bu-gas-riyo"><use href="#vl" x="1335" y="1557"/><circle class="c" cx="1334" cy="1582" r="21.5"/><text x="1333" y="1618">BUガス・利用</text></g>
<g id="n-gas-denryokuchu"><rect class="b" x="1496" y="1541" width="49" height="37"/><use href="#bb" x="1520.5" y="1559.5"/><use href="#pw" x="1544" y="1541"/><text x="1521" y="1593">電力中</text></g>
<g id="n-gas-fukkyu"><circle class="c" cx="972" cy="1506" r="21.5"/><use href="#pw" x="987" y="1491"/><text x="972" y="1545">ガス復旧</text></g>
<g id="n-teiatsu-fukkyu"><circle class="c" cx="1037" cy="1455" r="21.5"/><text class="e" x="1007" y="1455">低圧導管復旧</text></g>
<g id="n-eikyo2-gas"><circle class="c" cx="1038" cy="1533" r="21.5"/><use href="#bk" x="1038" y="1533"/><text x="1038" y="1571">復旧影響度2</text></g>

<!-- ===== Connectors ===== -->
<g id="connectors">
<path class="d" d="M552,45 C470,72 330,65 230,124"/>
<path class="d" d="M676,46 Q640,80 560,95 Q480,110 231,191"/>
<path class="k" d="M240,142 Q290,144 338,150"/>
<path class="k" d="M239,202 C270,195 310,180 341,162"/>
<path class="k" d="M344,166 C230,260 120,360 187,436"/>
<path class="k" d="M378,177 C392,230 395,280 373,318"/>
<path class="k" d="M310,300 C330,270 400,210 461,158"/>
<path class="k" d="M296,338 C297,350 270,349 252,347"/>
<path class="k" d="M193,430 C188,405 195,385 218,364"/>
<path class="k" d="M158,507 C160,485 170,475 186,466"/>
<path class="k" d="M231,505 L216,472"/>
<path class="k" d="M442,222 C445,190 452,170 463,156"/>
<path class="k" d="M504,221 C503,190 495,170 485,158"/>
<path class="k" d="M565,225 C545,195 520,175 495,156"/>
<path class="k" d="M503,321 L503,265"/>
<path class="k" d="M592,338 C588,310 584,290 583,265"/>
<path class="k" d="M681,338 C670,300 640,280 601,258"/>
<path class="k" d="M467,456 C470,420 520,385 573,368"/>
<path class="k" d="M679,458 C680,420 650,390 614,372"/>
<path class="k" d="M598,382 C605,430 595,465 555,487"/>
<path class="k" d="M673,497 C665,530 620,530 560,508"/>
<path class="d" d="M396,478 L437,478"/>

<path class="k" d="M814,130 Q860,138 912,147"/>
<path class="k" d="M814,180 C850,182 880,170 913,160"/>
<path class="k" d="M943,176 C950,230 950,280 946,308"/>
<path class="k" d="M877,300 C900,240 980,175 1045,148"/>
<path class="k" d="M846,301 C838,285 825,292 818,322"/>
<path class="k" d="M1018,221 C1015,190 1030,165 1046,152"/>
<path class="k" d="M1103,221 C1103,190 1090,170 1080,158"/>
<path class="k" d="M1148,190 C1120,175 1100,165 1082,155"/>
<path class="k" d="M1047,356 C1075,340 1075,290 1045,254"/>
<path class="k" d="M1173,287 C1165,270 1150,260 1124,254"/>
<path class="k" d="M1118,350 C1116,320 1112,290 1108,264"/>
<path class="k" d="M1027,456 C1030,420 1060,395 1096,382"/>
<path class="k" d="M1232,457 C1225,420 1180,395 1137,381"/>
<path class="k" d="M1126,392 C1132,430 1128,470 1104,489"/>
<path class="k" d="M1220,495 C1210,525 1160,530 1107,508"/>
<path class="d" d="M956,478 L997,478"/>

<path class="k" d="M1341,272 C1340,235 1365,212 1397,200"/>
<path class="k" d="M1428,272 L1424,210"/>
<path class="k" d="M1471,150 C1460,138 1448,148 1434,172"/>

<path class="k" d="M2062,232 C2090,215 2120,200 2152,187"/>
<path class="k" d="M2257,222 C2250,205 2225,195 2195,188"/>
<path class="k" d="M1922,300 C1935,270 1980,255 2021,249"/>
<path class="k" d="M1973,321 C1970,295 2000,275 2028,262"/>
<path class="k" d="M2064,330 L2048,265"/>
<path class="k" d="M2156,328 C2180,290 2210,255 2243,246"/>
<path class="k" d="M2203,321 C2205,290 2225,268 2247,254"/>
<path class="k" d="M2256,328 C2252,300 2251,280 2252,265"/>
<path class="k" d="M2312,321 C2305,295 2290,275 2273,264"/>
<path class="k" d="M2402,327 C2380,290 2330,270 2284,254"/>
<path class="k" d="M2160,504 L2281,504"/>
<path class="k" d="M2160,556 L2281,556"/>
<path class="k" d="M2160,608 L2281,608"/>

<path class="k" d="M276,741 C300,752 320,748 351,749"/>
<path class="k" d="M276,793 C300,795 320,775 354,761"/>
<path class="k" d="M388,771 C398,800 400,830 394,846"/>
<path class="k" d="M367,772 C345,850 310,900 284,942"/>
<path class="k" d="M308,837 C305,800 345,790 420,783 C470,778 500,765 525,754"/>
<path class="k" d="M292,836 C285,825 265,830 249,857"/>
<path class="k" d="M252,940 C240,925 236,912 236,900"/>
<path class="k" d="M220,1017 L257,980"/>
<path class="k" d="M294,1015 L287,980"/>
<path class="k" d="M546,834 L546,760"/>
<path class="k" d="M636,836 C610,800 585,770 560,757"/>
<path class="k" d="M503,926 C510,905 520,890 532,876"/>
<path class="k" d="M586,926 C575,905 565,890 558,875"/>
<path class="k" d="M605,926 C608,900 615,880 628,868"/>
<path class="k" d="M700,925 C698,900 685,885 666,875"/>
<path class="k" d="M505,1030 C510,1000 540,970 574,959"/>
<path class="k" d="M712,1031 C695,995 660,970 617,955"/>
<path class="k" d="M604,968 C610,1010 605,1045 588,1060"/>
<path class="k" d="M724,1070 C710,1090 650,1085 593,1077"/>
<path class="d" d="M434,1051 L476,1051"/>

<path class="k" d="M939,761 C960,775 980,770 1003,773"/>
<path class="k" d="M942,795 C965,792 985,786 1003,782"/>
<path class="k" d="M1039,802 C1042,820 1038,835 1033,838"/>
<path class="k" d="M1017,798 C990,850 950,895 968,940"/>
<path class="k" d="M987,830 C1000,815 1020,812 1060,810 C1090,808 1110,800 1124,794"/>
<path class="k" d="M958,830 C955,818 935,822 912,853"/>
<path class="k" d="M969,940 C950,915 925,900 912,890"/>
<path class="k" d="M939,1003 C945,985 955,978 967,972"/>
<path class="k" d="M994,1000 L991,982"/>
<path class="k" d="M1144,834 L1144,800"/>
<path class="k" d="M1260,900 C1235,870 1200,865 1164,863"/>
<path class="k" d="M1175,938 C1165,910 1155,895 1148,878"/>
<path class="k" d="M1128,1046 C1128,1010 1145,990 1166,976"/>
<path class="k" d="M1336,1031 C1310,990 1250,975 1203,969"/>
<path class="k" d="M1198,980 C1215,1010 1222,1040 1216,1068"/>
<path class="k" d="M1327,1054 C1290,1060 1270,1090 1222,1093"/>
<path class="d" d="M1042,1064 L1105,1064"/>

<path class="k" d="M1827,731 C1850,725 1870,728 1887,738"/>
<path class="k" d="M1828,780 C1850,772 1870,765 1889,755"/>
<path class="k" d="M1616,847 C1630,800 1680,775 1760,760 C1850,752 1990,755 2074,756"/>
<path class="k" d="M1930,742 C1990,725 2030,760 2060,800 C2080,830 2090,845 2096,858"/>
<path class="k" d="M1945,763 C1955,800 1965,900 1958,950"/>
<path class="k" d="M2017,845 C2030,810 2050,785 2078,766"/>
<path class="k" d="M1994,882 C1990,892 1970,890 1944,882"/>
<path class="k" d="M1953,951 C1948,935 1940,918 1933,907"/>
<path class="k" d="M1662,970 C1610,955 1550,945 1524,908"/>
<path class="k" d="M1704,976 C1740,970 1760,940 1790,920 C1830,895 1860,890 1900,889"/>
<path class="k" d="M1907,1006 L1934,987"/>
<path class="k" d="M1986,1012 L1970,994"/>

<path class="k" d="M214,1257 C260,1280 300,1300 307,1330"/>
<path class="k" d="M246,1358 C240,1365 230,1363 219,1362"/>
<path class="k" d="M271,1358 C290,1400 320,1430 352,1445"/>
<path class="k" d="M262,1358 C270,1420 300,1480 354,1510"/>
<path class="k" d="M192,1421 L189,1384"/>
<path class="k" d="M97,1472 C110,1455 150,1448 182,1446"/>
<path class="k" d="M194,1498 L194,1464"/>
<path class="k" d="M302,1492 L354,1465"/>
<path class="k" d="M300,1512 C320,1525 335,1530 353,1528"/>
<path class="k" d="M300,1577 C320,1560 335,1545 354,1531"/>
<path class="k" d="M386,1437 C405,1400 425,1375 449,1356"/>
<path class="k" d="M388,1500 C410,1460 430,1400 453,1356"/>
<path class="k" d="M474,1317 C480,1295 495,1280 514,1263"/>
<path class="k" d="M573,1316 C565,1295 555,1280 545,1264"/>
<path class="k" d="M529,1473 C528,1420 535,1385 563,1355"/>
<path class="k" d="M605,1473 C595,1430 582,1400 582,1359"/>
<path class="k" d="M697,1473 C690,1430 660,1410 640,1395 C620,1380 605,1370 595,1358"/>
<path class="k" d="M768,1473 C750,1430 720,1420 690,1400 C650,1375 630,1360 604,1350"/>
<path class="k" d="M529,1564 L529,1516"/>
<path class="k" d="M700,1645 L700,1516"/>
<path class="k" d="M442,1642 C450,1615 480,1600 508,1594"/>
<path class="k" d="M675,1668 C640,1660 610,1630 590,1615 C575,1603 565,1596 551,1592"/>
<path class="k" d="M543,1606 C550,1630 545,1660 530,1670"/>
<path class="k" d="M675,1678 C640,1695 590,1700 535,1693"/>
<path class="d" d="M439,1708 L439,1681"/>

<path class="k" d="M978,1227 C1010,1210 1040,1225 1068,1238"/>
<path class="k" d="M978,1276 C1000,1262 1035,1258 1068,1253"/>
<path class="k" d="M1110,1255 C1140,1270 1155,1300 1162,1328"/>
<path class="k" d="M1080,1267 C1078,1330 1082,1400 1055,1437"/>
<path class="k" d="M1117,1319 C1140,1280 1200,1260 1303,1249"/>
<path class="k" d="M1090,1357 C1085,1362 1070,1360 1055,1360"/>
<path class="k" d="M1034,1434 C1030,1415 1032,1395 1035,1383"/>
<path class="k" d="M995,1489 L1018,1463"/>
<path class="k" d="M1035,1512 L1041,1477"/>
<path class="k" d="M1291,1329 C1295,1300 1303,1280 1313,1267"/>
<path class="k" d="M1373,1329 C1368,1300 1355,1280 1341,1265"/>
<path class="k" d="M1223,1446 C1225,1410 1250,1385 1271,1370"/>
<path class="k" d="M1315,1447 L1289,1373"/>
<path class="k" d="M1339,1448 C1355,1420 1365,1400 1370,1373"/>
<path class="k" d="M1433,1446 C1430,1410 1410,1390 1393,1369"/>
<path class="k" d="M1259,1539 C1262,1510 1285,1490 1307,1482"/>
<path class="k" d="M1497,1541 C1460,1510 1400,1490 1347,1475"/>
<path class="k" d="M1339,1490 C1355,1510 1360,1535 1352,1563"/>
<path class="k" d="M1497,1560 C1450,1560 1410,1590 1357,1590"/>
<path class="d" d="M1177,1560 L1233,1560"/>
</g>

<!-- ===== Charts ===== -->
<g id="chart1">
<rect class="fr" x="1796" y="1116" width="587" height="170"/>
<text class="cf" x="1824" y="1134">%</text>
<path class="ax" d="M1838,1150V1264H2270M1833,1150H1843M1833,1174H1843M1833,1196H1843M1833,1218H1843M1833,1242H1843M1833,1264H1843M2061,1257V1270M2270,1257V1270M1838,1257V1270"/>
<text class="cf e" x="1829" y="1150">100</text><text class="cf e" x="1829" y="1174">80</text><text class="cf e" x="1829" y="1196">60</text><text class="cf e" x="1829" y="1218">40</text><text class="cf e" x="1829" y="1242">20</text><text class="cf e" x="1829" y="1264">0</text>
<text class="cf" x="1949" y="1280">1</text><text class="cf" x="2164" y="1280">2</text>
<polyline class="ln" stroke="#ff0000" points="1838,1150 1844.5,1257 1887.6,1257 1895.5,1156 2269.5,1156"/>
<polyline class="ln" stroke="#22dd22" points="1838,1150 1844.5,1257 1887.6,1257 1895.5,1156 2269.5,1156"/>
<polyline class="ln" stroke="#0000ff" points="1838,1150 1844.5,1263.6 1851.2,1206.4 1862,1205 1875,1204 1890,1201 1908.5,1196.4 1916.4,1176 1926.3,1173.2 1938.2,1170.7 1946,1167.9 1960,1165.4 1967.8,1162.5 1979.7,1160 1989.6,1157 1995.5,1156 2269.5,1156"/>
<rect x="2281" y="1173" width="89" height="65" fill="#fff" stroke="#000" stroke-width="1.3"/>
<path d="M2287,1187.5H2304" stroke="#ff0000" stroke-width="1.3"/><text class="s lg" x="2310" y="1187.5">固定電話</text>
<path d="M2287,1206.5H2304" stroke="#22dd22" stroke-width="1.3"/><text class="s lg" x="2310" y="1206.5">携帯電話</text>
<path d="M2287,1225.5H2304" stroke="#0000ff" stroke-width="1.3"/><text class="s lg" x="2310" y="1225.5">鉄道</text>
</g>
<g id="chart2">
<rect class="fr" x="1796" y="1286" width="587" height="182"/>
<text class="cf" x="1824" y="1305">%</text>
<path class="ax" d="M1838,1321V1433H2264M1833,1321.4H1843M1833,1346.4H1843M1833,1369.6H1843M1833,1392.9H1843M1833,1416.8H1843M2057,1427V1439M2264,1427V1439M1838,1427V1439"/>
<text class="cf e" x="1829" y="1321">100</text><text class="cf e" x="1829" y="1346">80</text><text class="cf e" x="1829" y="1370">60</text><text class="cf e" x="1829" y="1393">40</text><text class="cf e" x="1829" y="1417">20</text>
<text class="cf" x="1948" y="1449">1</text><text class="cf" x="2160" y="1449">2</text>
<polyline class="ln" stroke="#ff0000" points="1838,1321.4 1844.5,1362.5 1851.2,1362.5 1873,1341 1886.8,1341 1898.6,1338.6 1918.4,1338.6 1928.3,1336.8 1960,1336.8 1966,1335.7 1987,1335.7 1993,1334.6 2025,1334.6 2031,1333 2066,1333 2072,1331.4 2110,1331.4 2120,1330 2160,1329.6 2264.4,1328.6"/>
<polyline class="ln" stroke="#22dd22" points="1838,1321.4 1844.5,1350 1853,1348 1873,1343.6 1898.6,1338.6 1918.4,1336.4 1938,1334 1960,1332 1985.6,1330.4 2017,1328.6 2264.4,1327.9"/>
<polyline class="ln" stroke="#0000ff" points="1838,1321.4 1844.5,1434 1851.2,1413.6 1863,1412.5 1906.5,1412.5 1915.6,1327.9 2264.4,1327.9"/>
<polyline class="ln" stroke="#808000" points="1838,1321.4 1845.2,1331 2264.4,1331"/>
<rect x="2275" y="1335" width="95" height="84" fill="#fff" stroke="#000" stroke-width="1.3"/>
<path d="M2282,1348H2299" stroke="#ff0000" stroke-width="1.3"/><text class="s lg" x="2305" y="1348">上水道</text>
<path d="M2282,1367H2299" stroke="#22dd22" stroke-width="1.3"/><text class="s lg" x="2305" y="1367">下水道</text>
<path d="M2282,1386H2299" stroke="#0000ff" stroke-width="1.3"/><text class="s lg" x="2305" y="1386">一般・道路</text>
<path d="M2282,1405H2299" stroke="#808000" stroke-width="1.3"/><text class="s lg" x="2305" y="1405">ガス・低圧</text>
</g>
<g id="chart3">
<rect class="fr" x="1796" y="1468" width="587" height="168"/>
<text class="cf" x="1824" y="1487">%</text>
<path class="ax" d="M1838,1503V1602H2283M1833,1503.6H1843M1833,1523.2H1843M1833,1543.6H1843M1833,1563.2H1843M1833,1582.9H1843M1833,1601.8H1843M2068,1595V1608M2283,1595V1608M1838,1595V1608"/>
<text class="cf e" x="1829" y="1504">100</text><text class="cf e" x="1829" y="1523">80</text><text class="cf e" x="1829" y="1544">60</text><text class="cf e" x="1829" y="1563">40</text><text class="cf e" x="1829" y="1583">20</text><text class="cf e" x="1829" y="1602">0</text>
<text class="cf" x="1952" y="1618">1</text><text class="cf" x="2175" y="1618">2</text>
<polyline class="ln" stroke="#ff0000" points="1838,1503.6 1844.5,1595 1853,1516 1890.7,1509 2283,1509"/>
<polyline class="ln" stroke="#22dd22" points="1838,1503.6 1844.5,1601.8 1852.4,1503.6 2283,1503.6"/>
<rect x="2294" y="1529" width="76" height="46" fill="#fff" stroke="#000" stroke-width="1.3"/>
<path d="M2301,1542H2318" stroke="#ff0000" stroke-width="1.3"/><text class="s lg" x="2324" y="1542">電力小</text>
<path d="M2301,1562H2318" stroke="#22dd22" stroke-width="1.3"/><text class="s lg" x="2324" y="1562">電力中</text>
</g>
</svg>
